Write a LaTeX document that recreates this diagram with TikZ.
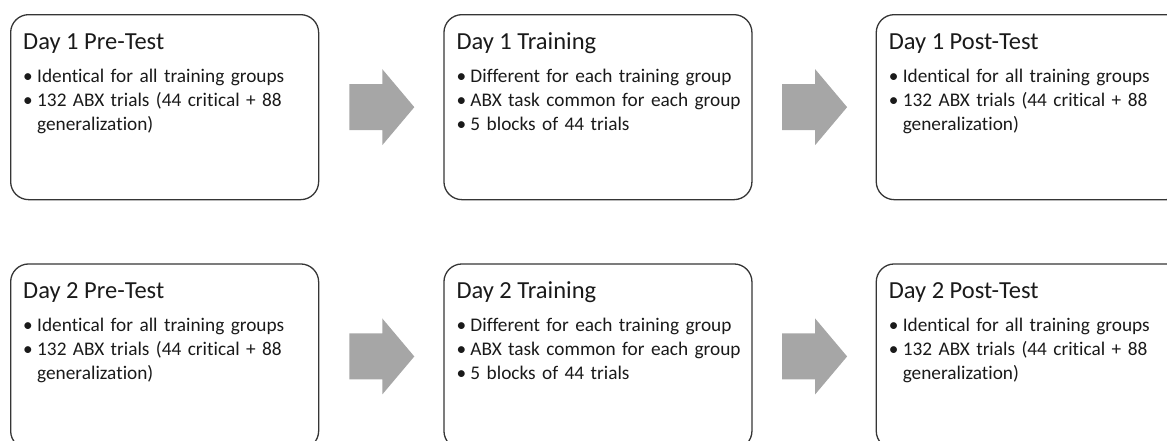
\documentclass[tikz,border=0pt]{standalone}
\usepackage{fontspec}
\setmainfont{Carlito}[Ligatures=NoCommon]
\usepackage{tikz}
\usetikzlibrary{positioning,calc}
\definecolor{cFrame}{HTML}{353535}
\definecolor{cText}{HTML}{1A1A1A}
\definecolor{cArrow}{HTML}{A6A6A6}
\tikzset{
  stage/.style={draw=cFrame, line width=1.3pt, rounded corners=18pt,
                minimum width=308pt, minimum height=185pt, inner sep=0pt},
  ttl/.style={anchor=base west, inner sep=0pt, text=cText,
              font=\fontsize{24.5}{29}\selectfont},
  pts/.style={anchor=base west, inner sep=0pt, text=cText, align=left,
              text width=292pt, font=\fontsize{19.3}{24}\selectfont},
  blockar/.style={fill=cArrow},
}
% one bullet line, wrapped lines hang under the text
\newcommand{\bul}[1]{\hangindent=14pt\hangafter=1\makebox[14pt][l]{•}#1\par}
\newcommand{\preText}{\bul{Identical for all training groups}%
  \bul{132 ABX trials (44 critical + 88\newline generalization)}}
\newcommand{\trainText}{\bul{Different for each training group}%
  \bul{ABX task common for each group}%
  \bul{5 blocks of 44 trials}}

\begin{document}
\begin{tikzpicture}[x=1pt, y=-1pt]
    \clip (0,0) rectangle (1167,440);
    % row one
    \node[stage, anchor=north west] (pre1) at (10,14) {};
    \node[stage, right=124pt of pre1] (train1) {};
    \node[stage, right=123pt of train1] (post1) {};
    % row two
    \node[stage, below=63pt of pre1] (pre2) {};
    \node[stage, right=124pt of pre2] (train2) {};
    \node[stage, right=123pt of train2] (post2) {};
    % titles and bullet points
    \foreach \n/\t in {pre1/Day 1 Pre-Test, train1/Day 1 Training, post1/Day 1 Post-Test,
                       pre2/Day 2 Pre-Test, train2/Day 2 Training, post2/Day 2 Post-Test}
      \node[ttl] (\n-t) at ([shift={(13,35)}]\n.north west) {\t};
    \foreach \n in {pre1,post1,pre2,post2}
      \node[pts] (\n-b) at ([shift={(13,68)}]\n.north west) {\preText};
    \foreach \n in {train1,train2}
      \node[pts] (\n-b) at ([shift={(13,68)}]\n.north west) {\trainText};
    % block arrows between the stages
    \foreach \a/\b in {pre1/train1, train1/post1, pre2/train2, train2/post2} {
      \coordinate (\a-m) at ($(\a.east)!0.5!(\b.west)$);
      \fill[blockar] ([shift={(-32,-23)}]\a-m) -- ([shift={(1,-23)}]\a-m)
        -- ([shift={(1,-38)}]\a-m) -- ([shift={(33,0)}]\a-m)
        -- ([shift={(1,38)}]\a-m) -- ([shift={(1,23)}]\a-m)
        -- ([shift={(-32,23)}]\a-m) -- cycle;
    }
\end{tikzpicture}
\end{document}
